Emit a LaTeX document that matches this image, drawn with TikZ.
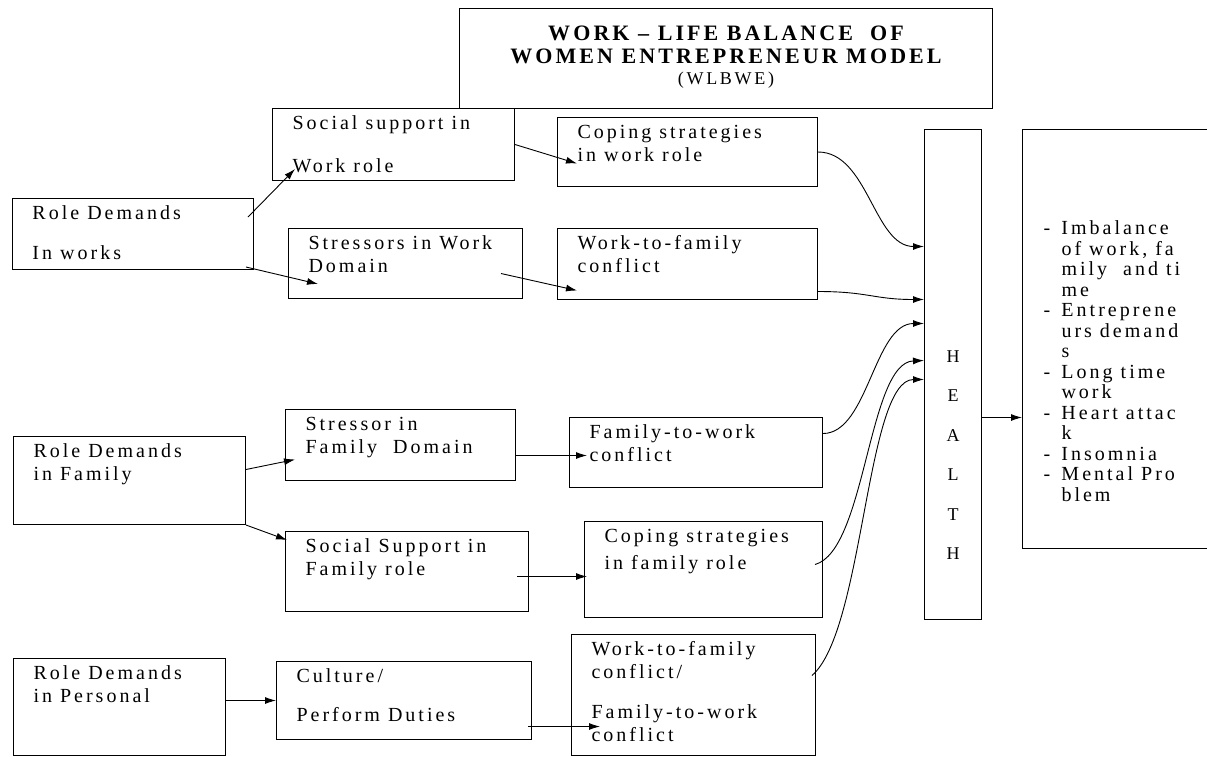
\documentclass[tikz,border=0pt]{standalone}
\usepackage{fontspec}
\setmainfont{Liberation Serif}
\newfontfamily\boxfont{Liberation Serif}[LetterSpace=15]
\newfontfamily\titlefont{Liberation Serif}[LetterSpace=14]
\usepackage{tikz}
\usetikzlibrary{arrows.meta, calc}

% fixed size text block, lines start at the top left
\newcommand{\boxtext}[3]{\parbox[t][#2][t]{#1}{\raggedright\leftskip=20pt\relax\rule{0pt}{21pt}#3}}
\newcommand{\listdash}{\makebox[18pt][l]{-}}
\newcommand{\listcont}{\hspace*{18pt}}

\begin{document}
\begin{tikzpicture}[x=1pt, y=-1pt]
    % Styles
    \tikzstyle{box} = [rectangle, draw, line width=1pt, anchor=north west, inner sep=0pt, font=\boxfont\fontsize{20}{23}\selectfont]
    \tikzstyle{arrow} = [line width=0.9pt, -{Latex[length=11pt, width=7pt]}]

    \useasboundingbox (0,0) rectangle (1207,756);
    \clip (0,0) rectangle (1207,756);

    % Nodes
    \node [box, font=\titlefont\fontsize{22}{23}\selectfont] (title) at (459,8) {\parbox[t][100pt][t]{533pt}{\centering\rule{0pt}{32pt}\bfseries WORK – LIFE BALANCE\ \ OF\\WOMEN ENTREPRENEUR MODEL\\[-2pt]{\mdseries\boxfont\fontsize{18}{18}\selectfont (WLBWE)}}};

    \node [box] (sww) at (272,108) {\boxtext{242pt}{72pt}{Social support in\\[20pt]Work role}};
    \node [box] (cww) at (557,117) {\boxtext{260pt}{69pt}{Coping strategies\\in work role}};
    \node [box] (rdw) at (12,198) {\boxtext{241pt}{71pt}{Role Demands\\[17pt]In works}};
    \node [box] (swd) at (288,228) {\boxtext{234pt}{70pt}{Stressors in Work\\Domain}};
    \node [box] (wfc) at (557,228) {\boxtext{260pt}{71pt}{Work-to-family\\conflict}};

    \node [box] (rdf) at (13,436) {\boxtext{232pt}{88pt}{Role Demands\\in Family}};
    \node [box] (sfd) at (285,409) {\boxtext{230pt}{71pt}{Stressor in\\Family\ \ Domain}};
    \node [box] (ftw) at (569,417) {\boxtext{253pt}{70pt}{Family-to-work\\conflict}};
    \node [box] (ssf) at (285,531) {\boxtext{243pt}{80pt}{Social Support in\\Family role}};
    \node [box] (cfr) at (584,521) {\boxtext{238pt}{96pt}{Coping strategies\\[4pt]in family role}};

    \node [box] (rdp) at (13,658) {\boxtext{212pt}{97pt}{Role Demands\\in Personal}};
    \node [box] (cul) at (276,661) {\boxtext{255pt}{78pt}{Culture/\\[16pt]Perform Duties}};
    \node [box] (wff) at (571,634) {\boxtext{244pt}{121pt}{Work-to-family\\conflict/\\[17pt]Family-to-work\\conflict}};

    \node [box, font=\fontsize{18}{39.4}\selectfont] (health) at (924,129) {\parbox[t][490pt][t]{57pt}{\centering\rule{0pt}{233pt}H\\E\\A\\L\\T\\H}};
    \node [box, font=\boxfont\fontsize{20}{20.5}\selectfont] (effects) at (1022,129) {\parbox[t][419pt][t]{200pt}{\raggedright\leftskip=21pt\relax\rule{0pt}{105pt}\listdash Imbalance\\\listcont of work, fa\\\listcont mily\ \ and ti\\\listcont me\\\listdash Entreprene\\\listcont urs demand\\\listcont s\\\listdash Long time\\\listcont work\\\listdash Heart attac\\\listcont k\\\listdash Insomnia\\\listdash Mental Pro\\\listcont blem}};

    % Arrows
    \draw [arrow] ($(rdw.north east)+(-6,19)$) -- ($(sww.south west)+(23,-12)$);
    \draw [arrow] ($(rdw.south east)+(-8,-3)$) -- ($(swd.south west)+(30,-15)$);
    \draw [arrow] (sww.east) -- ($(cww.west)+(20,11.5)$);
    \draw [arrow] ($(swd.east)+(-22,10)$) -- ($(wfc.west)+(20,26.5)$);

    \draw [arrow] ($(rdf.east)+(0,-11)$) -- ($(sfd.west)+(10,14.5)$);
    \draw [arrow] (rdf.south east) -- ($(ssf.north west)+(2,9)$);
    \draw [arrow] ($(sfd.east)+(0,10.5)$) -- ($(ftw.west)+(18,3)$);
    \draw [arrow] ($(ssf.east)+(-12,5)$) -- ($(cfr.west)+(3,7)$);

    \draw [arrow] (rdp.east |- cul.west) -- (cul.west);
    \draw [arrow] ($(cul.east)+(-4,26)$) -- ($(wff.west)+(29,31.5)$);

    % into HEALTH
    \draw [arrow] (cww.east) .. controls +(50,0) and +(-50,0) .. ($(health.west)+(0,-128)$);
    \draw [arrow] ($(wfc.east)+(0,27.5)$) .. controls +(50,0) and +(-50,0) .. ($(health.west)+(0,-75)$);
    \draw [arrow] ($(ftw.east)+(0,-19)$) .. controls +(45,0) and +(-50,0) .. ($(health.west)+(0,-51)$);
    \draw [arrow] ($(cfr.east)+(-8,-5)$) .. controls +(51,-14) and +(-56,2) .. ($(health.west)+(0,-14)$);
    \draw [arrow] ($(wff.east)+(-4,-19.5)$) .. controls +(52,-45) and +(-58,0) .. ($(health.west)+(0,5)$);

    \draw [arrow] ($(health.east)+(0,43)$) -- ($(effects.west)+(0,78.5)$);
\end{tikzpicture}
\end{document}
